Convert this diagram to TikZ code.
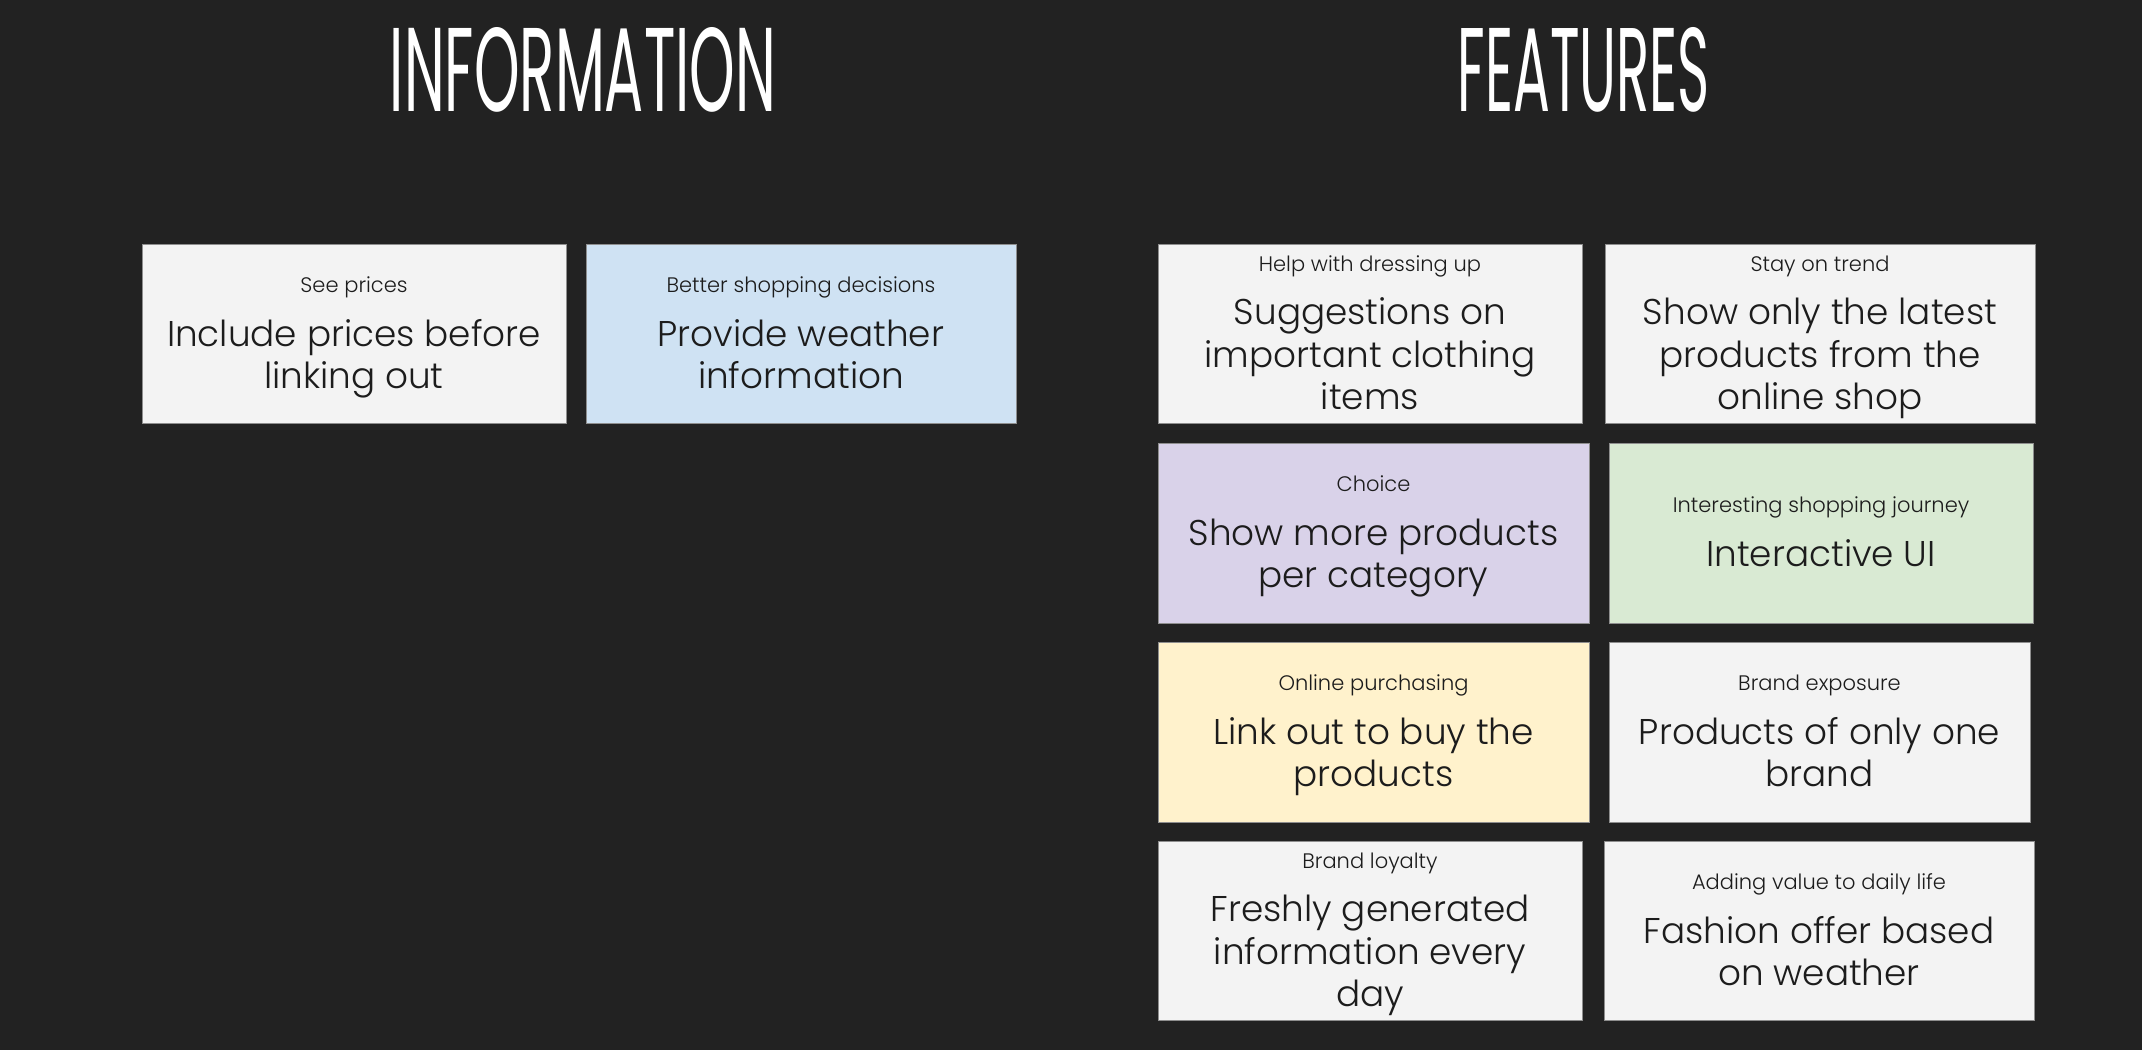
\documentclass[tikz,border=0pt]{standalone}
\usepackage{fontspec}
\setmainfont{Poppins}[UprightFont=* Light, BoldFont=* Bold]
\newfontfamily\headfont{Poppins}
\definecolor{canvas}{HTML}{222222}
\definecolor{notegrey}{HTML}{F3F3F3}
\definecolor{noteblue}{HTML}{CFE2F3}
\definecolor{notepurple}{HTML}{D9D2E9}
\definecolor{notegreen}{HTML}{D9EAD3}
\definecolor{noteyellow}{HTML}{FFF2CC}
\definecolor{noteedge}{HTML}{8E8E8E}
\definecolor{ink}{HTML}{1C1C1C}
\newcommand{\tagfont}{\fontsize{21}{24}\selectfont}
\newcommand{\mainfont}{\fontsize{35.8}{42.4}\selectfont}
% a note: small tag line above the main text; the rule and strut keep the block
% height uniform so every note centres its text the same way
\newcommand{\notetext}[2]{{\tagfont\rule{0pt}{26pt}#1}\\[11pt]#2\strut}
\tikzset{
  note/.style={draw=noteedge, line width=1pt, rectangle, align=center,
    text=ink, font=\mainfont, inner sep=0pt, minimum height=179pt},
  heading/.style={text=white, inner sep=0pt}
}
\begin{document}
\begin{tikzpicture}[x=1pt,y=-1pt]
\fill[canvas] (0,0) rectangle (2142,1050);
\useasboundingbox (0,0) rectangle (2142,1050);

% section headings
\node[heading, anchor=north] (infohead) at (583,27.5)
  {\resizebox{386pt}{84pt}{\headfont INFORMATION}};
\node[heading, anchor=north] (feathead) at (1584,27.5)
  {\resizebox{252pt}{84pt}{\headfont FEATURES}};

% information notes
\node[note, fill=notegrey, minimum width=424pt] (prices) at (354,334)
  {\notetext{See prices}{Include prices before\\linking out}};
\node[note, fill=noteblue, minimum width=430pt] (weather) at (801,334)
  {\notetext{Better shopping decisions}{Provide weather\\information}};

% feature notes
\node[note, fill=notegrey, minimum width=424pt] (dressing) at (1370,334)
  {\notetext{Help with dressing up}{Suggestions on\\important clothing\\items}};
\node[note, fill=notegrey, minimum width=430pt] (trend) at (1820,334)
  {\notetext{Stay on trend}{Show only the latest\\products from the\\online shop}};
\node[note, fill=notepurple, minimum width=431pt, minimum height=180pt] (choice) at (1373.5,533)
  {\notetext{Choice}{Show more products\\per category}};
\node[note, fill=notegreen, minimum width=424pt, minimum height=180pt] (journey) at (1821,533)
  {\notetext{Interesting shopping journey}{Interactive UI}};
\node[note, fill=noteyellow, minimum width=431pt, minimum height=180pt] (purchase) at (1373.5,732)
  {\notetext{Online purchasing}{Link out to buy the\\products}};
\node[note, fill=notegrey, minimum width=421pt, minimum height=180pt] (exposure) at (1819.5,732)
  {\notetext{Brand exposure}{Products of only one\\brand}};
\node[note, fill=notegrey, minimum width=424pt] (loyalty) at (1370,931)
  {\notetext{Brand loyalty}{Freshly generated\\information every\\day}};
\node[note, fill=notegrey, minimum width=430pt] (daily) at (1819,931)
  {\notetext{Adding value to daily life}{Fashion offer based\\on weather}};
\end{tikzpicture}
\end{document}
